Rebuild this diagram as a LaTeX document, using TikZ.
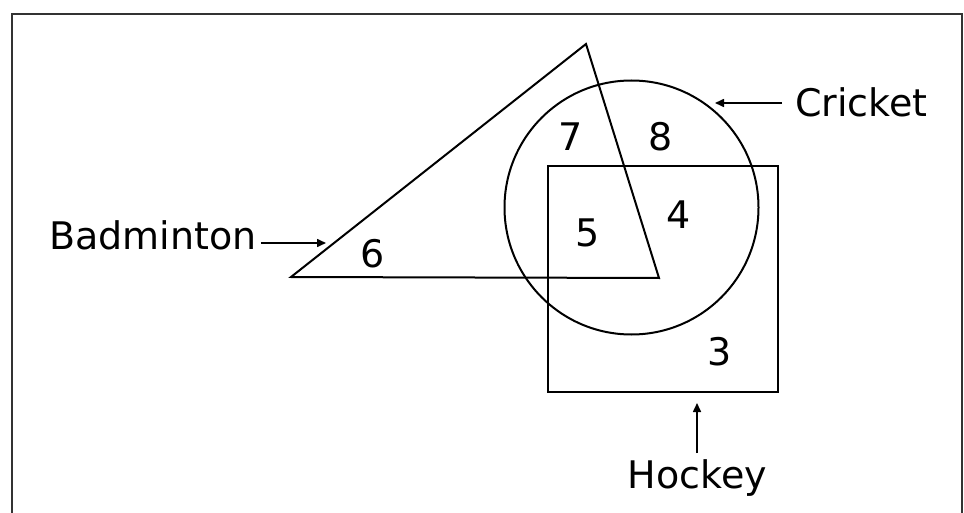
\documentclass[tikz,border=0pt]{standalone}
\usepackage{fontspec}
\setmainfont{DejaVu Sans}
\usetikzlibrary{arrows.meta}
\begin{document}
\begin{tikzpicture}[x=1pt,y=-1pt,
  shape line/.style={draw=black, line width=2pt},
  lbl/.style={inner sep=0pt, anchor=base, font=\fontsize{38}{44}\selectfont},
  pointer/.style={draw=black, line width=1.6pt, -{Triangle[length=9pt,width=8pt]}}]
\useasboundingbox (0,0) rectangle (964,513);
\clip (0,0) rectangle (964,513);
% outer frame (bottom edge not shown)
\draw[line width=2.6pt, draw=black!80] (12,520) -- (12,14) -- (962,14) -- (962,520);
% Badminton triangle
\coordinate (tA) at (586,44);
\coordinate (tB) at (291,277);
\coordinate (tC) at (659,278);
\draw[shape line, line join=miter] (tA) -- (tB) -- (tC) -- cycle;
% Cricket circle
\node[shape line, circle, minimum size=254pt, inner sep=0pt] (cricket) at (631.5,207.5) {};
% Hockey square
\node[shape line, rectangle, minimum width=230pt, minimum height=226pt, inner sep=0pt, anchor=north west] (hockey) at (547,165) {};
% region numbers
\node[lbl] (n7) at (571,151) {7};
\node[lbl] (n8) at (661,151) {8};
\node[lbl] (n5) at (588,247) {5};
\node[lbl] (n4) at (679,229) {4};
\node[lbl] (n6) at (373,267) {6};
\node[lbl] (n3) at (720,365) {3};
% set labels
\node[lbl] (lbad) at (153,250) {Badminton};
\node[lbl] (lcri) at (861.5,117) {Cricket};
\node[lbl] (lhoc) at (697.5,488) {Hockey};
% pointers
\coordinate (pbad) at (326,243);
\coordinate (pcri) at (715,103);
\coordinate (phoc) at (697,403);
\draw[pointer] (lbad.east |- pbad) ++(4,0) -- (pbad);
\draw[pointer] (782,103) -- (pcri);
\draw[pointer] (697,453) -- (phoc);
\end{tikzpicture}
\end{document}
